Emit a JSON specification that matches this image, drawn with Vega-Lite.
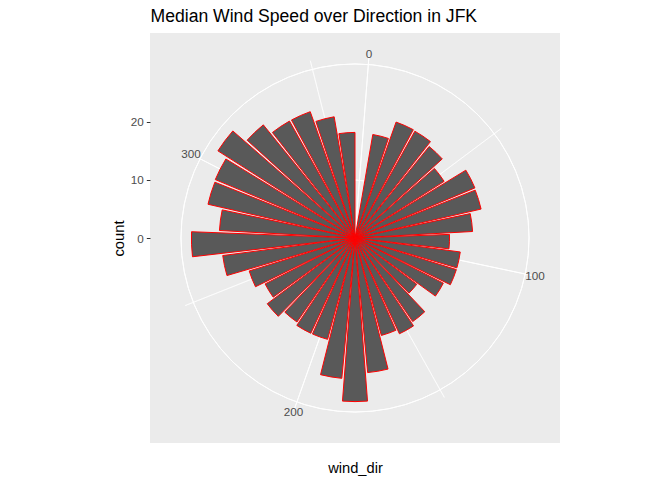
{
  "$schema": "https://vega.github.io/schema/vega-lite/v6.json",
  "description": "Median wind speed over direction at JFK, polar bar chart.",
  "width": 410,
  "height": 410,
  "autosize": "none",
  "padding": {"left": 150, "top": 33, "right": 112, "bottom": 37},
  "background": "white",
  "config": {
    "font": "Liberation Sans",
    "view": {"fill": "#EBEBEB", "stroke": null}
  },
  "datasets": {
    "wind": [
      {"wind_dir": 10, "count": 18.1},
      {"wind_dir": 20, "count": 21.2},
      {"wind_dir": 30, "count": 21.1},
      {"wind_dir": 40, "count": 20.3},
      {"wind_dir": 50, "count": 18.2},
      {"wind_dir": 60, "count": 22.4},
      {"wind_dir": 70, "count": 22.3},
      {"wind_dir": 80, "count": 20.3},
      {"wind_dir": 90, "count": 16.3},
      {"wind_dir": 100, "count": 18.3},
      {"wind_dir": 110, "count": 18.3},
      {"wind_dir": 120, "count": 17.1},
      {"wind_dir": 130, "count": 13.3},
      {"wind_dir": 140, "count": 17.5},
      {"wind_dir": 150, "count": 18.2},
      {"wind_dir": 160, "count": 17.4},
      {"wind_dir": 170, "count": 23.3},
      {"wind_dir": 180, "count": 28.2},
      {"wind_dir": 190, "count": 24.3},
      {"wind_dir": 200, "count": 18.1},
      {"wind_dir": 210, "count": 18.1},
      {"wind_dir": 220, "count": 17.6},
      {"wind_dir": 230, "count": 18.9},
      {"wind_dir": 240, "count": 17.4},
      {"wind_dir": 250, "count": 19.1},
      {"wind_dir": 260, "count": 23.0},
      {"wind_dir": 270, "count": 28.2},
      {"wind_dir": 280, "count": 23.4},
      {"wind_dir": 290, "count": 26.0},
      {"wind_dir": 300, "count": 26.1},
      {"wind_dir": 310, "count": 28.0},
      {"wind_dir": 320, "count": 25.1},
      {"wind_dir": 330, "count": 23.1},
      {"wind_dir": 340, "count": 23.1},
      {"wind_dir": 350, "count": 21.2},
      {"wind_dir": 360, "count": 18.2}
    ],
    "rings": [{"r": 10}, {"r": 20}, {"r": 31.73}],
    "spokes": [
      {"dir": 0, "grid": "major"},
      {"dir": 50, "grid": "minor"},
      {"dir": 100, "grid": "major"},
      {"dir": 150, "grid": "minor"},
      {"dir": 200, "grid": "major"},
      {"dir": 250, "grid": "minor"},
      {"dir": 300, "grid": "major"},
      {"dir": 350, "grid": "minor"}
    ],
    "labels": [{"dir": 0}, {"dir": 100}, {"dir": 200}, {"dir": 300}]
  },
  "resolve": {"axis": {"x": "independent"}},
  "layer": [
    {
      "data": {"name": "rings"},
      "mark": {"type": "arc", "filled": false, "stroke": "white", "strokeWidth": 1},
      "encoding": {
        "theta": {"value": 0},
        "theta2": {"value": 6.2832},
        "radius": {
          "field": "r", "type": "quantitative",
          "scale": {"type": "linear", "domain": [0, 28.2], "range": [0, 163.6], "zero": true, "nice": false}
        }
      }
    },
    {
      "data": {"name": "spokes"},
      "mark": {"type": "arc", "filled": false, "stroke": "white", "strokeCap": "butt"},
      "encoding": {
        "theta": {
          "field": "dir", "type": "quantitative", "stack": null,
          "scale": {"domain": [-4.5, 364.5], "range": [0, 6.283185], "zero": false, "nice": false}
        },
        "theta2": {"field": "dir"},
        "radius": {"datum": 31.5, "type": "quantitative"},
        "strokeWidth": {
          "field": "grid", "type": "nominal", "legend": null,
          "scale": {"domain": ["major", "minor"], "range": [1, 0.6]}
        }
      }
    },
    {
      "data": {"name": "wind"},
      "transform": [
        {"calculate": "datum.wind_dir - 4.5", "as": "lo"},
        {"calculate": "datum.wind_dir + 4.5", "as": "hi"}
      ],
      "mark": {"type": "arc", "fill": "#595959", "stroke": "red", "strokeWidth": 1},
      "encoding": {
        "theta": {"field": "lo", "type": "quantitative", "stack": null},
        "theta2": {"field": "hi"},
        "radius": {"field": "count", "type": "quantitative"}
      }
    },
    {
      "data": {"name": "labels"},
      "mark": {"type": "text", "fontSize": 11.7, "color": "#4D4D4D", "align": "center", "baseline": "middle"},
      "encoding": {
        "theta": {"field": "dir", "type": "quantitative", "stack": null},
        "radius": {"datum": 31.73, "type": "quantitative"},
        "text": {"field": "dir", "type": "quantitative"}
      }
    },
    {
      "data": {"name": "wind"},
      "mark": {"type": "point", "opacity": 0},
      "encoding": {
        "x": {
          "field": "wind_dir", "type": "quantitative",
          "scale": {"domain": [-4.5, 364.5], "zero": false, "nice": false},
          "axis": {
            "title": "wind_dir", "labels": false, "ticks": false, "domain": false, "grid": false,
            "titleFontSize": 14.7, "titleFontWeight": "normal", "titleColor": "black",
            "titleBaseline": "alphabetic", "titleY": 29
          }
        },
        "y": {
          "field": "count", "type": "quantitative",
          "scale": {"domain": [0, 28.2], "range": [205, 41.4], "zero": true, "nice": false},
          "axis": {
            "title": "count", "values": [0, 10, 20], "grid": false, "domain": false,
            "tickSize": 3.7, "tickColor": "#333333", "tickWidth": 1,
            "labelPadding": 3, "labelFontSize": 11.7, "labelColor": "#4D4D4D",
            "titleFontSize": 14.7, "titleFontWeight": "normal", "titleColor": "black",
            "titleBaseline": "alphabetic", "titleAngle": -90, "titleX": -27, "titleY": 205
          }
        }
      }
    },
    {
      "data": {"name": "wind"},
      "mark": {"type": "point", "opacity": 0},
      "encoding": {
        "x": {
          "field": "wind_dir", "type": "quantitative",
          "axis": {
            "orient": "top", "title": "Median Wind Speed over Direction in JFK",
            "labels": false, "ticks": false, "domain": false, "grid": false,
            "titleFontSize": 17.6, "titleFontWeight": "normal", "titleColor": "black",
            "titleAlign": "left", "titleAnchor": "start", "titleBaseline": "alphabetic",
            "titleX": 0, "titleY": -11.3
          }
        }
      }
    }
  ]
}
